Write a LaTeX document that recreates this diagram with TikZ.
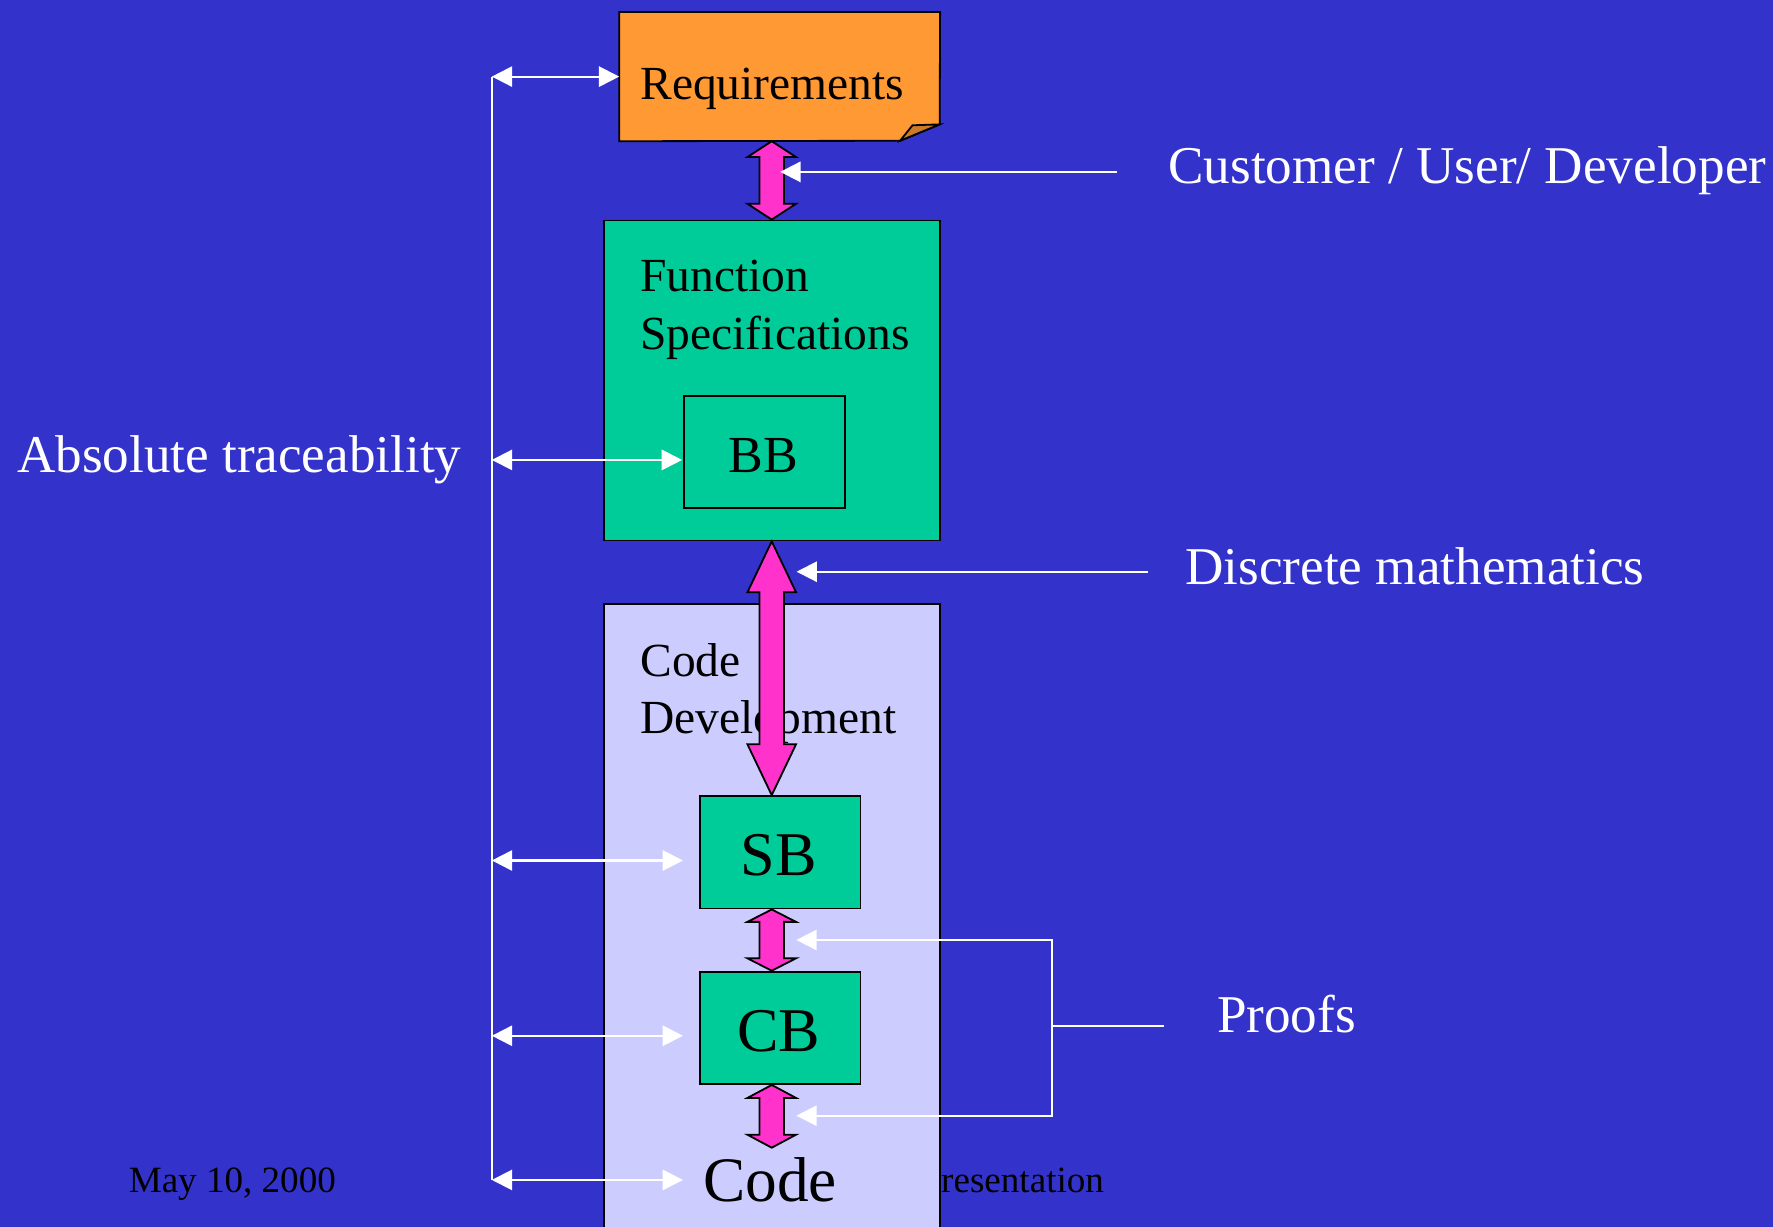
\documentclass[tikz,border=0pt]{standalone}
\usepackage{fontspec}
\setmainfont{Liberation Serif}
\usetikzlibrary{arrows.meta,calc,fit}

\definecolor{slide}{RGB}{51,51,204}
\definecolor{reqfill}{RGB}{255,153,51}
\definecolor{reqfold}{RGB}{204,122,41}
\definecolor{specfill}{RGB}{0,204,153}
\definecolor{codefill}{RGB}{204,204,255}
\definecolor{linkfill}{RGB}{255,51,204}

% fat vertical double arrow: #1 top tip, #2 bottom tip, #3 head length
\newcommand\fatlink[3]{%
  \draw[fatarrow] (#1) -- ($(#1)+(21.5,#3)$) -- ($(#1)+(10.8,#3)$)
    -- ($(#2)+(10.8,-#3)$) -- ($(#2)+(21.5,-#3)$) -- (#2)
    -- ($(#2)+(-21.5,-#3)$) -- ($(#2)+(-10.8,-#3)$)
    -- ($(#1)+(-10.8,#3)$) -- ($(#1)+(-21.5,#3)$) -- cycle;}

\begin{document}
\begin{tikzpicture}[x=0.5pt,y=-0.5pt,
  box/.style={draw=black,line width=0.8pt,inner sep=0pt},
  fatarrow/.style={draw=black,fill=linkfill,line width=0.8pt,line join=miter},
  wline/.style={draw=white,line width=0.9pt},
  tr/.style={wline,-{Triangle[length=9pt,width=9pt]}},
  trr/.style={wline,{Triangle[length=9pt,width=9pt]}-{Triangle[length=9pt,width=9pt]}},
  title/.style={inner sep=0pt,anchor=base west,font=\fontsize{21}{25}\selectfont},
  blocktxt/.style={inner sep=0pt,anchor=base,font=\fontsize{27.5}{31}\selectfont},
  note/.style={inner sep=0pt,anchor=base west,text=white,font=\fontsize{23.5}{28}\selectfont},
  foot/.style={inner sep=0pt,anchor=base west,font=\fontsize{16.4}{19}\selectfont}]

\useasboundingbox (0,0) rectangle (1568,1085);
\clip (0,0) rectangle (1568,1085);
\fill[slide] (0,0) rectangle (1568,1085);

% footer
\node[foot] (date) at (113.5,1055) {May 10, 2000};
\node[foot] (pres) at (832,1055) {resentation};

% requirements note with folded corner
\node[fit={(548,11) (831,124.5)},inner sep=0pt] (req) {};
\draw[line width=0.8pt,fill=reqfill,line join=miter]
  (req.north west) -- (req.north east) -- (831,110) -- (796,124.5)
  -- (req.south west) -- cycle;
\draw[line width=0.8pt,fill=reqfold,line join=miter]
  (796,124.5) -- (831,110) -- (807,110.8) -- cycle;
\node[title] (reqt) at (566,88) {Requirements};

% function specifications
\node[box,fill=specfill,fit={(534,195) (831,478)}] (fs) {};
\node[title] (fst1) at (566,258) {Function};
\node[title] (fst2) at (566,309.5) {Specifications};
\node[box,fill=specfill,fit={(605,350) (747,449.5)}] (bb) {};
\node[inner sep=0pt,anchor=base,font=\fontsize{23}{27}\selectfont] (bbt) at (675,418) {BB};

% code development
\node[box,fill=codefill,fit={(534,534) (831,1110)}] (cd) {};
\node[title] (cdt1) at (566,598.5) {Code};
\node[title] (cdt2) at (566,648.5) {Development};
\node[box,fill=specfill,fit={(619,704) (761,803.5)}] (sb) {};
\node[blocktxt] (sbt) at (688.5,774) {SB};
\node[box,fill=specfill,fit={(619,859.3) (761,958.7)}] (cb) {};
\node[blocktxt] (cbt) at (688.5,929.5) {CB};
\node[inner sep=0pt,anchor=base,font=\fontsize{28}{32}\selectfont] (code) at (681,1063) {Code};
\coordinate (codetop) at (682.5,1015);

% fat links between the stages
\coordinate (l1a) at (req.south -| fs.north);
\coordinate (l2b) at (sb.north -| fs.south);
\coordinate (l3a) at (sb.south -| fs.south);
\coordinate (l3b) at (cb.north -| fs.south);
\coordinate (l4a) at (cb.south -| fs.south);
\coordinate (l4b) at (codetop -| fs.south);
\fatlink{l1a}{fs.north}{14}
\fatlink{fs.south}{l2b}{45}
\fatlink{l3a}{l3b}{11}
\fatlink{l4a}{l4b}{11.5}

% side notes
\node[note] (cust) at (1033,162.7) {Customer / User/ Developer};
\coordinate (custfrom) at (987.5,152);
\coordinate (custto) at (690,152);
\draw[tr] (custfrom) -- (custto);

\node[note] (disc) at (1048,516.8) {Discrete mathematics};
\coordinate (discfrom) at (1015,505.6);
\coordinate (discto) at (704.5,505.6);
\draw[tr] (discfrom) -- (discto);

\node[note] (proofs) at (1076,913.3) {Proofs};
\coordinate (prup) at (704.3,831.3);
\coordinate (prdn) at (704.3,986.7);
\coordinate (prx) at (930.4,0);
\coordinate (prstub) at (1029.5,907);
\draw[wline] (prstub) -- (prstub -| prx);
\draw[tr] (prdn -| prx) |- (prup);
\draw[tr] (prup -| prx) |- (prdn);

% traceability spine
\node[note] (trace) at (14.7,418) {Absolute traceability};
\coordinate (spine) at (435,0);
\coordinate (rbb) at ($(bb.west)+(-1,7)$);
\coordinate (rsb) at (604,761);
\coordinate (rcb) at (604,916);
\coordinate (rcode) at (604,1043.5);
\draw[wline] (req.west -| spine) -- (rcode -| spine);
\draw[trr] (req.west -| spine) -- (req.west);
\draw[trr] (rbb -| spine) -- (rbb);
\draw[trr] (rsb -| spine) -- (rsb);
\draw[trr] (rcb -| spine) -- (rcb);
\draw[trr] (rcode -| spine) -- (rcode);
\end{tikzpicture}
\end{document}
